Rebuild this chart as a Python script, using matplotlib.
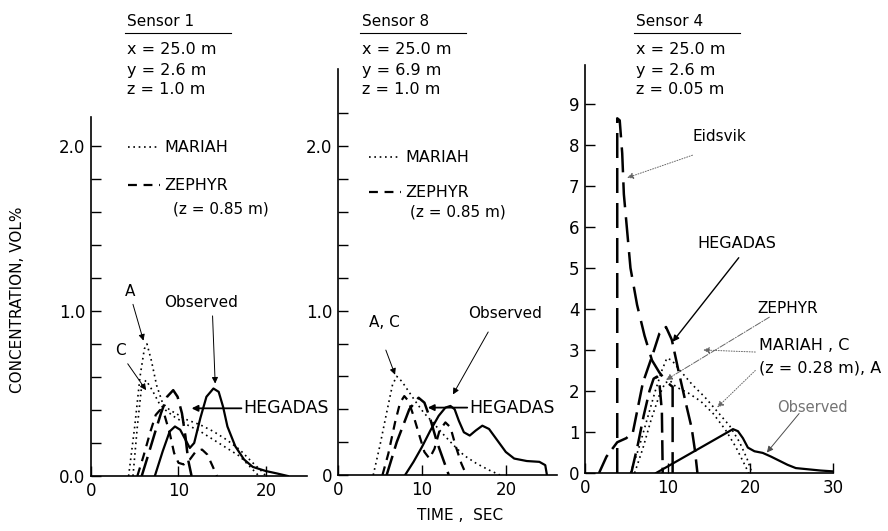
import matplotlib
matplotlib.use("Agg")
import matplotlib.pyplot as plt
from matplotlib.lines import Line2D

W, H = 888, 531

# ---- Sensor 1 (x=25.0, y=2.6, z=1.0) ----
obs1_t = [7.3, 8.2, 9.0, 9.6, 10.2, 10.8, 11.3, 11.8, 12.5, 13.2, 14.0, 14.6, 15.1, 15.6, 16.5, 17.5, 18.5, 20.0, 21.3, 22.5]
obs1_c = [0.0, 0.15, 0.27, 0.30, 0.28, 0.22, 0.17, 0.20, 0.35, 0.48, 0.53, 0.51, 0.42, 0.30, 0.18, 0.10, 0.055, 0.03, 0.015, 0.0]
heg1_t = [5.8, 6.5, 7.3, 8.0, 8.7, 9.4, 9.9, 10.4, 10.8, 11.1, 11.5]
heg1_c = [0.0, 0.12, 0.26, 0.38, 0.48, 0.52, 0.48, 0.38, 0.24, 0.10, 0.0]
zep1_t = [5.3, 6.0, 6.8, 7.4, 7.9, 8.4, 9.0, 9.5, 10.0, 10.6, 11.3, 12.0, 12.7, 13.3, 13.9, 14.4]
zep1_c = [0.0, 0.12, 0.27, 0.37, 0.40, 0.37, 0.26, 0.14, 0.08, 0.07, 0.10, 0.15, 0.16, 0.13, 0.06, 0.0]
marA1_t = [4.3, 5.0, 5.6, 6.1, 6.4, 6.9, 7.5, 8.2, 9.0, 10.0, 11.0, 12.5, 14.0, 15.5, 17.0, 18.5, 19.5, 20.0]
marA1_c = [0.0, 0.30, 0.60, 0.77, 0.80, 0.70, 0.55, 0.44, 0.40, 0.37, 0.34, 0.31, 0.27, 0.22, 0.16, 0.08, 0.03, 0.0]
marC1_t = [4.8, 5.3, 5.8, 6.3, 7.0, 7.8, 8.5, 9.5, 11.0, 12.5, 14.0, 15.5, 17.0, 18.3, 19.2]
marC1_c = [0.0, 0.30, 0.55, 0.58, 0.52, 0.44, 0.40, 0.36, 0.31, 0.27, 0.22, 0.17, 0.12, 0.05, 0.0]

# ---- Sensor 8 (x=25.0, y=6.9, z=1.0) ----
obs2_t = [8.0, 9.0, 10.0, 11.0, 12.0, 12.8, 13.4, 13.9, 14.4, 15.0, 15.7, 16.4, 17.2, 18.0, 19.0, 20.0, 21.0, 22.5, 24.0, 24.7, 24.9]
obs2_c = [0.0, 0.08, 0.17, 0.27, 0.36, 0.41, 0.42, 0.40, 0.33, 0.26, 0.24, 0.27, 0.30, 0.28, 0.21, 0.14, 0.10, 0.085, 0.08, 0.06, 0.0]
heg2_t = [5.8, 7.0, 8.5, 9.6, 10.3, 11.0, 11.8, 12.5, 13.2]
heg2_c = [0.0, 0.20, 0.40, 0.47, 0.44, 0.34, 0.20, 0.10, 0.0]
zep2_t = [5.3, 6.0, 6.8, 7.4, 7.9, 8.4, 9.0, 9.7, 10.3, 10.9, 11.5, 12.1, 12.8, 13.4, 14.0, 14.7, 15.3]
zep2_c = [0.0, 0.13, 0.32, 0.44, 0.48, 0.45, 0.36, 0.24, 0.14, 0.10, 0.16, 0.27, 0.32, 0.29, 0.18, 0.07, 0.0]
mar2_t = [4.2, 5.0, 5.8, 6.5, 7.0, 7.6, 8.4, 9.2, 10.2, 11.3, 12.5, 13.8, 15.0, 16.5, 18.0, 19.3]
mar2_c = [0.0, 0.18, 0.38, 0.55, 0.60, 0.57, 0.51, 0.45, 0.38, 0.32, 0.25, 0.18, 0.12, 0.07, 0.03, 0.0]

# ---- Sensor 4 (x=25.0, y=2.6, z=0.05) ----
eid3_t = [3.9, 3.9, 4.2, 4.5, 4.7, 5.1, 5.5, 6.3, 7.2, 8.1, 9.0, 10.0, 10.6, 10.6]
eid3_c = [0.0, 8.65, 8.6, 7.8, 6.8, 5.9, 5.0, 4.1, 3.35, 2.75, 2.45, 2.2, 2.1, 0.0]
heg3_t = [1.7, 2.6, 3.9, 5.0, 5.8, 6.3, 7.0, 8.2, 9.0, 9.8, 10.5, 11.3, 12.2, 12.9, 13.3, 13.6]
heg3_c = [0.0, 0.40, 0.75, 0.85, 1.0, 1.5, 2.2, 2.9, 3.4, 3.56, 3.25, 2.5, 1.7, 1.1, 0.55, 0.0]
zep3_t = [5.6, 6.4, 7.1, 7.8, 8.3, 8.7, 9.0, 9.3, 9.4]
zep3_c = [0.0, 0.7, 1.4, 2.0, 2.3, 2.35, 2.2, 1.5, 0.0]
marA3_t = [5.5, 6.5, 7.5, 8.5, 9.3, 9.9, 10.5, 11.5, 13.0, 14.5, 16.0, 17.5, 18.7, 19.6, 20.2]
marA3_c = [0.0, 0.6, 1.3, 2.0, 2.5, 2.8, 2.75, 2.5, 2.15, 1.85, 1.5, 1.15, 0.75, 0.35, 0.0]
marC3_t = [6.0, 7.0, 8.0, 9.0, 9.7, 10.3, 11.0, 12.5, 14.0, 15.5, 17.0, 18.2, 19.2, 19.8]
marC3_c = [0.0, 0.6, 1.3, 1.9, 2.2, 2.25, 2.1, 1.95, 1.75, 1.45, 1.05, 0.65, 0.25, 0.0]
obs3_t = [8.6, 10, 12, 14, 16, 17.3, 17.9, 18.5, 19.1, 19.7, 20.5, 21.5, 22.5, 23.5, 24.5, 25.5, 27, 28.5, 30]
obs3_c = [0.0, 0.16, 0.39, 0.62, 0.85, 1.0, 1.07, 1.02, 0.85, 0.62, 0.53, 0.49, 0.40, 0.30, 0.20, 0.12, 0.09, 0.06, 0.04]

SOLID = dict(color="k", lw=1.6, ls="-")
DOT = dict(color="k", lw=1.2, ls=(0, (1, 2.2)))
ZDASH = dict(color="k", lw=1.6, ls=(0, (4, 3)))
LDASH = dict(color="k", lw=1.8, ls=(0, (8, 3)))

plt.rcParams["font.family"] = "DejaVu Sans"
fig = plt.figure(figsize=(W / 100, H / 100), dpi=100)


def px_axes(x0, x1, ytop, ybot):
    return fig.add_axes([x0 / W, 1 - ybot / H, (x1 - x0) / W, (ybot - ytop) / H])


def style(ax):
    for s in ("top", "right"):
        ax.spines[s].set_visible(False)
    for s in ("left", "bottom"):
        ax.spines[s].set_linewidth(1.2)
    ax.tick_params(which="both", direction="in", labelsize=12, width=1)
    ax.tick_params(which="major", length=7, pad=4)
    ax.tick_params(which="minor", length=7)


def header(x0, name, lines):
    fig.text(x0 / W, 1 - 22 / H, name, ha="left", va="center", fontsize=11)
    fig.add_artist(Line2D([(x0 - 2) / W, (x0 + 104) / W], [1 - 33 / H] * 2, color="k", lw=0.8))
    for i, s in enumerate(lines):
        fig.text(x0 / W, 1 - (50 + 20 * i) / H, s, ha="left", va="center", fontsize=11.5)


def arrow(ax, tip, tail, lw=0.7, color="k", ls="-"):
    ax.annotate("", xy=tip, xytext=tail,
                arrowprops=dict(arrowstyle="-|>", lw=lw, color=color, ls=ls, mutation_scale=9,
                                shrinkA=0, shrinkB=0))


def legend(ax, x, y, spacing):
    h, l = ax.get_legend_handles_labels()
    ax.legend(h[::-1], l[::-1], loc="upper left", bbox_to_anchor=(x, y), frameon=False,
              fontsize=11.5, handlelength=2.0, handletextpad=0.3, labelspacing=spacing,
              borderaxespad=0, borderpad=0)


# panel 1
ax1 = px_axes(91, 307, 117, 476)
ax1.plot(obs1_t, obs1_c, **SOLID)
ax1.plot(heg1_t, heg1_c, **LDASH)
ax1.plot(zep1_t, zep1_c, label="ZEPHYR", **ZDASH)
ax1.plot(marA1_t, marA1_c, label="MARIAH", **DOT)
ax1.plot(marC1_t, marC1_c, **DOT)
ax1.set_xlim(0, 24.7); ax1.set_ylim(0, 2.175)
ax1.set_xticks([0, 10, 20]); ax1.set_yticks([0, 1, 2], ["0.0", "1.0", "2.0"])
ax1.set_yticks([0.2 * i for i in range(1, 11)], minor=True)
style(ax1)
legend(ax1, 0.17, 0.935, 1.45)
ax1.text(9.4, 1.62, "(z = 0.85 m)", fontsize=11, ha="left", va="center")
ax1.text(4.5, 1.12, "A", fontsize=11, ha="center", va="center")
arrow(ax1, (6.0, 0.82), (4.8, 1.04))
ax1.text(3.4, 0.76, "C", fontsize=11, ha="center", va="center")
arrow(ax1, (6.3, 0.52), (4.2, 0.68))
ax1.text(12.6, 1.05, "Observed", fontsize=11, ha="center", va="center")
arrow(ax1, (14.2, 0.56), (13.9, 0.97))
ax1.text(17.4, 0.41, "HEGADAS", fontsize=12.5, ha="left", va="center")
arrow(ax1, (11.5, 0.41), (17.2, 0.41), lw=1.3)

# panel 2
ax2 = px_axes(338, 557, 69, 475)
ax2.plot(obs2_t, obs2_c, **SOLID)
ax2.plot(heg2_t, heg2_c, **LDASH)
ax2.plot(zep2_t, zep2_c, label="ZEPHYR", **ZDASH)
ax2.plot(mar2_t, mar2_c, label="MARIAH", **DOT)
ax2.set_xlim(0, 26.1); ax2.set_ylim(0, 2.47)
ax2.set_xticks([0, 10, 20]); ax2.set_yticks([0, 1, 2], ["0", "1.0", "2.0"])
ax2.set_yticks([0.2 * i for i in range(1, 12)], minor=True)
style(ax2)
legend(ax2, 0.14, 0.80, 1.25)
ax2.text(8.6, 1.6, "(z = 0.85 m)", fontsize=11, ha="left", va="center")
ax2.text(3.7, 0.93, "A, C", fontsize=11, ha="left", va="center")
arrow(ax2, (6.8, 0.61), (5.7, 0.76))
ax2.text(19.9, 0.98, "Observed", fontsize=11, ha="center", va="center")
arrow(ax2, (13.7, 0.49), (17.9, 0.87))
ax2.text(15.6, 0.41, "HEGADAS", fontsize=12.5, ha="left", va="center")
arrow(ax2, (10.7, 0.41), (15.4, 0.41), lw=1.3)

# panel 3
ax3 = px_axes(585, 833, 65, 473)
ax3.plot(eid3_t, eid3_c, color="k", lw=1.8, ls=(0, (10, 4)))
ax3.plot(heg3_t, heg3_c, **LDASH)
ax3.plot(zep3_t, zep3_c, **LDASH)
ax3.plot(marA3_t, marA3_c, **DOT)
ax3.plot(marC3_t, marC3_c, **DOT)
ax3.plot(obs3_t, obs3_c, **SOLID)
ax3.set_xlim(0, 30); ax3.set_ylim(0, 9.95)
ax3.set_xticks([0, 10, 20, 30]); ax3.set_yticks(range(10))
style(ax3)
ax3.text(16.2, 8.2, "Eidsvik", fontsize=11, ha="center", va="center")
arrow(ax3, (5.1, 7.2), (13.0, 7.75), color="0.4", ls=":")
ax3.text(18.4, 5.6, "HEGADAS", fontsize=11.5, ha="center", va="center")
arrow(ax3, (10.6, 3.2), (18.6, 5.25), lw=1.0)
ax3.text(24.5, 4.0, "ZEPHYR", fontsize=11, ha="center", va="center")
arrow(ax3, (9.8, 2.27), (22.3, 3.8), color="0.4", ls="-.")
ax3.text(21.0, 3.1, "MARIAH , C", fontsize=11.5, ha="left", va="center")
ax3.text(21.0, 2.55, "(z = 0.28 m), A", fontsize=11.5, ha="left", va="center")
arrow(ax3, (14.3, 3.0), (20.6, 2.95), color="0.4", ls=":")
arrow(ax3, (16.0, 1.6), (20.6, 2.5), color="0.4", ls=":")
ax3.text(27.5, 1.6, "Observed", fontsize=10.5, ha="center", va="center", color="0.45")
arrow(ax3, (22.0, 0.5), (25.9, 1.45), color="0.3")

header(127, "Sensor 1", ["x = 25.0 m", "y = 2.6 m", "z = 1.0 m"])
header(362, "Sensor 8", ["x = 25.0 m", "y = 6.9 m", "z = 1.0 m"])
header(636, "Sensor 4", ["x = 25.0 m", "y = 2.6 m", "z = 0.05 m"])

fig.text(18 / W, 1 - 300 / H, "CONCENTRATION, VOL%", rotation=90, ha="center", va="center", fontsize=11)
fig.text(460 / W, 1 - 515 / H, "TIME ,  SEC", ha="center", va="center", fontsize=11)

fig.savefig("out.png", dpi=100, facecolor="white")
